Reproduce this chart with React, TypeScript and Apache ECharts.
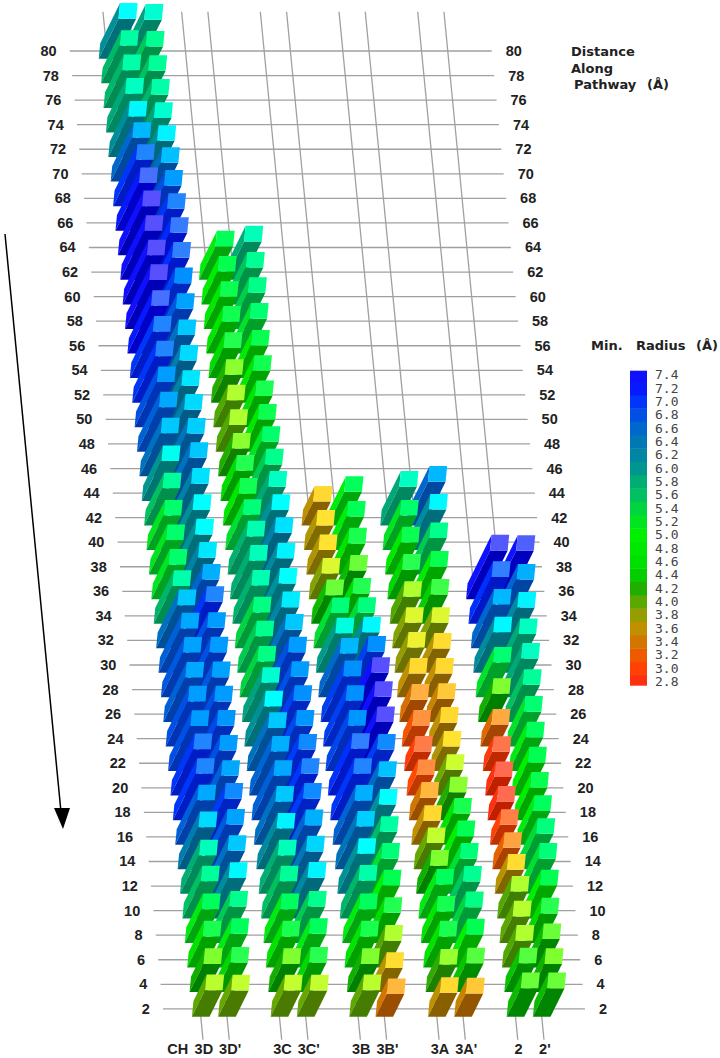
import React, { useEffect, useRef } from 'react';
import * as echarts from 'echarts';

// pore radius along the pathway, highest level first, one list per channel
const radius3D = [6.05, 5.67, 5.7, 5.85, 6.1, 6.6, 7.0, 7.2, 7.4, 7.4, 7.4, 7.4, 7.2, 7.0, 7.0, 6.8, 6.7, 6.5, 6.0, 5.6, 5.2, 5.2, 5.2, 5.7, 6.5, 6.7, 6.75, 6.7, 6.8, 6.8, 7.0, 7.0, 6.7, 6.35, 5.8, 5.6, 5.1, 4.7, 4.25, 4.0];
const radius3Dp = [5.9, 5.55, 5.6, 5.7, 5.9, 6.15, 6.55, 6.8, 7.0, 7.1, 7.05, 6.9, 6.75, 6.5, 6.35, 6.25, 6.35, 6.45, 6.5, 6.3, 6.05, 6.05, 6.25, 6.65, 7.0, 6.8, 6.8, 6.75, 6.8, 6.85, 6.8, 6.7, 6.95, 6.75, 6.5, 6.1, 5.5, 5.1, 4.45, 3.95];
const radius3C = [5.07, 4.95, 4.85, 4.8, 4.55, 4.2, 4.05, 4.05, 4.2, 4.55, 4.8, 5.3, 5.75, 5.8, 5.75, 5.4, 5.5, 5.4, 5.9, 6.05, 6.5, 6.65, 6.7, 6.5, 6.15, 5.8, 5.6, 5.1, 4.7, 4.25, 3.95];
const radius3Cp = [5.8, 5.55, 5.45, 5.25, 4.9, 4.8, 4.7, 4.85, 5.2, 5.5, 5.85, 6.05, 6.3, 6.15, 6.05, 6.2, 6.5, 6.8, 6.8, 6.9, 6.85, 6.95, 7.0, 6.95, 6.65, 6.4, 6.15, 5.5, 5.1, 4.45, 3.95];
const radius3B = [3.6, 3.7, 3.7, 3.85, 4.3, 5.3, 5.95, 6.6, 6.9, 6.9, 6.85, 7.05, 7.0, 6.65, 6.45, 6.05, 5.7, 5.1, 4.7, 4.25, 4.0];
const radius3Bp = [5.07, 5.05, 4.7, 4.3, 4.55, 5.35, 6.1, 6.9, 7.4, 7.5, 7.4, 6.95, 6.55, 6.05, 5.65, 5.3, 5.0, 4.55, 4.05, 3.65, 3.4];
const radius3A = [5.85, 5.2, 4.85, 4.45, 4.05, 3.85, 3.8, 3.6, 3.35, 3.15, 2.95, 3.1, 3.4, 3.6, 3.95, 4.25, 5.1, 4.75, 4.7, 4.15, 3.6];
const radius3Ap = [6.6, 6.1, 5.5, 4.9, 4.4, 3.85, 3.65, 3.6, 3.5, 3.6, 3.7, 3.9, 4.2, 4.7, 5.0, 5.3, 5.55, 5.4, 5.0, 4.35, 3.5];
const radius2 = [7.35, 7.05, 6.6, 6.1, 5.25, 4.25, 3.3, 2.9, 2.8, 2.8, 3.0, 3.25, 3.65, 4.05, 4.0, 4.05, 4.35, 4.3];
const radius2p = [7.3, 6.65, 6.15, 5.85, 5.85, 5.6, 5.25, 5.1, 5.0, 4.9, 5.1, 5.35, 5.3, 5.0, 4.45, 4.3, 4.25, 4.3];

// blanks are the gaps between channel pairs on the x axis
const columnNames = ['CH', '3D', "3D'", '', '3C', "3C'", '', '3B', "3B'", '', '3A', "3A'", '', '2', "2'"];
const columnValues: Record<string, number[]> = {
  '3D': radius3D, "3D'": radius3Dp, '3C': radius3C, "3C'": radius3Cp, '3B': radius3B,
  "3B'": radius3Bp, '3A': radius3A, "3A'": radius3Ap, '2': radius2, "2'": radius2p,
};
const levelTicks = [2, 4, 6, 8, 10, 12, 14, 16, 18, 20, 22, 24, 26, 28, 30, 32, 34, 36, 38, 40, 42, 44, 46, 48, 50, 52, 54, 56, 58, 60, 62, 64, 66, 68, 70, 72, 74, 76, 78, 80];
const legendTicks = ['2.8', '3.0', '3.2', '3.4', '3.6', '3.8', '4.0', '4.2', '4.4', '4.6', '4.8', '5.0', '5.2', '5.4', '5.6', '5.8', '6.0', '6.2', '6.4', '6.6', '6.8', '7.0', '7.2', '7.4'];

// radius, top face, left face, front face
const shades: [number, string, string, string][] = [
  [2.8, '#ff6a50', '#ff3010', '#c02000'],
  [3.1, '#ff8c40', '#ff4a00', '#c03800'],
  [3.35, '#ffb040', '#d87000', '#a04800'],
  [3.6, '#ffd830', '#c09000', '#886000'],
  [3.75, '#ffe830', '#a89800', '#7a7000'],
  [3.9, '#ccff30', '#70a800', '#507800'],
  [4.05, '#b0ff30', '#50a800', '#3f7f00'],
  [4.25, '#80ff30', '#10b000', '#008000'],
  [4.45, '#28ff50', '#00d800', '#009800'],
  [4.6, '#20ff50', '#00e000', '#00a000'],
  [5.0, '#00ff50', '#00f000', '#00a800'],
  [5.3, '#00ff78', '#00e030', '#00a030'],
  [5.6, '#00ff98', '#00c060', '#00904c'],
  [5.85, '#00ffc0', '#00a878', '#008860'],
  [6.05, '#00ffff', '#009098', '#007078'],
  [6.3, '#00e0ff', '#0080a8', '#006080'],
  [6.5, '#00c8ff', '#0070c0', '#005098'],
  [6.7, '#00a8ff', '#0060d8', '#0040a8'],
  [6.9, '#0090ff', '#0040f0', '#0028c0'],
  [7.05, '#3080ff', '#0030ff', '#0018c8'],
  [7.2, '#4870ff', '#0818ff', '#0000c8'],
  [7.4, '#5850ff', '#1010ff', '#0000b8'],
];

const TICK_FONT = { fontFamily: '"Liberation Sans", sans-serif', fontWeight: 'bold' as const, fontSize: 14.5, fill: '#222' };
const LINE = { stroke: '#a0a0a0', lineWidth: 1.3 };
const SHEAR = 1.195; // px the whole floor leans left per level
const RISE_X = 3.27; // px per angstrom of bar height
const RISE_Y = 6.63;
const HALF_W = 8.8;
const HALF_D = 7.8;

const mix = (a: string, b: string, t: number) => {
  const pa = parseInt(a.slice(1), 16);
  const pb = parseInt(b.slice(1), 16);
  const ch = (s: number) => Math.round(((pa >> s) & 255) * (1 - t) + ((pb >> s) & 255) * t);
  return `rgb(${ch(16)},${ch(8)},${ch(0)})`;
};

const shade = (v: number, face: 1 | 2 | 3) => {
  if (v <= shades[0][0]) return shades[0][face];
  for (let i = 1; i < shades.length; i++) {
    if (v <= shades[i][0]) {
      const t = (v - shades[i - 1][0]) / (shades[i][0] - shades[i - 1][0]);
      return mix(shades[i - 1][face], shades[i][face], t);
    }
  }
  return shades[shades.length - 1][face];
};

// floor position of a column / level, leaning with the level
const floorPoint = (api: any, slot: number, level: number) => {
  const p = api.coord([slot, level]);
  return [p[0] - (level - 2) * SHEAR, p[1]];
};

const renderLevel = (_: any, api: any) => {
  const level = api.value(1);
  const [x0, y] = floorPoint(api, 0, level);
  const [x1] = floorPoint(api, 14, level);
  return {
    type: 'group',
    children: [
      { type: 'line', shape: { x1: x0 - 10.8, y1: y, x2: x1 + 44, y2: y }, style: LINE },
      { type: 'text', style: { ...TICK_FONT, text: String(level), x: x0 - 24, y, textAlign: 'right', textVerticalAlign: 'middle' } },
      { type: 'text', style: { ...TICK_FONT, text: String(level), x: x1 + 58, y, textAlign: 'left', textVerticalAlign: 'middle' } },
    ],
  };
};

const renderColumnLine = (_: any, api: any) => {
  const slot = api.value(0);
  const name = columnNames[slot];
  const low = floorPoint(api, slot, -0.52);
  const high = floorPoint(api, slot, 83.2);
  const lab = floorPoint(api, slot, -1.25);
  const children: any[] = [{ type: 'text', style: { ...TICK_FONT, text: name, x: lab[0], y: lab[1], textAlign: 'center', textVerticalAlign: 'middle' } }];
  if (name !== 'CH') {
    children.unshift({ type: 'line', shape: { x1: low[0], y1: low[1], x2: high[0], y2: high[1] }, style: LINE });
  }
  return { type: 'group', children };
};

const renderBar = (_: any, api: any) => {
  const slot = api.value(0);
  const level = api.value(1);
  const v = api.value(2);
  const [bx, by] = floorPoint(api, slot, level);
  const cx = bx + 1.5;
  const lean = HALF_D * (SHEAR / 12.28);
  const rx = RISE_X * v;
  const ry = RISE_Y * v;
  const backL = [cx - HALF_W + lean, by - HALF_D];
  const frontL = [cx - HALF_W - lean, by + HALF_D];
  const frontR = [cx + HALF_W - lean, by + HALF_D];
  const backR = [cx + HALF_W + lean, by - HALF_D];
  const up = (p: number[]) => [p[0] + rx, p[1] - ry];
  return {
    type: 'group',
    children: [
      { type: 'polygon', shape: { points: [backL, frontL, up(frontL), up(backL)] }, style: { fill: shade(v, 2) } },
      { type: 'polygon', shape: { points: [frontL, frontR, up(frontR), up(frontL)] }, style: { fill: shade(v, 3) } },
      { type: 'polygon', shape: { points: [up(backL), up(backR), up(frontR), up(frontL)] }, style: { fill: shade(v, 1) } },
    ],
  };
};

const renderLegendBand = (_: any, api: any) => {
  const i = api.value(1);
  const [x, y] = api.coord([0, i]);
  const h = api.size([0, 1])[1];
  const trimTop = i === legendTicks.length - 1 ? 2.4 : 0;
  const trimBottom = i === 0 ? 3 : 0;
  const color = shade(Number(legendTicks[i]), 2);
  return {
    type: 'rect',
    shape: { x, y: y - h / 2 + trimTop, width: 17, height: h - trimTop - trimBottom + 0.4 },
    style: { fill: color },
  };
};

const titleText = (text: string, x: number, y: number) => ({
  type: 'text' as const,
  x,
  y,
  style: { text, fill: '#222', fontFamily: '"DejaVu Sans", sans-serif', fontWeight: 'bold' as const, fontSize: 13 },
});

export default function App() {
  const chartRef = useRef<HTMLDivElement>(null);

  useEffect(() => {
    if (!chartRef.current) return;
    const chart = echarts.init(chartRef.current, undefined, { renderer: 'svg' });

    // back rows first, right columns first, so nearer bars paint over farther ones
    const barData: number[][] = [];
    for (let i = levelTicks.length - 1; i >= 0; i--) {
      const level = levelTicks[i];
      for (let slot = columnNames.length - 1; slot >= 0; slot--) {
        const list = columnValues[columnNames[slot]];
        if (!list) continue;
        const idx = list.length - 1 - i;
        if (idx >= 0) barData.push([slot, level, list[idx]]);
      }
    }

    const option: echarts.EChartsOption = {
      animation: false,
      backgroundColor: '#fff',
      grid: [
        { left: 173.77, width: 367.2, top: 1.88, height: 1056.1 },
        { left: 630, width: 17, top: 368.3, height: 320 },
      ],
      xAxis: [
        { type: 'category', data: columnNames, boundaryGap: false, show: false, gridIndex: 0 },
        { type: 'value', min: 0, max: 1, show: false, gridIndex: 1 },
      ],
      yAxis: [
        { type: 'value', min: -2, max: 84, show: false, gridIndex: 0 },
        {
          type: 'category',
          data: legendTicks,
          gridIndex: 1,
          position: 'right',
          axisLine: { show: false },
          axisTick: { show: false },
          axisLabel: { show: true, interval: 0, margin: 8, color: '#444', fontFamily: '"DejaVu Sans Mono", monospace', fontSize: 13, lineHeight: 13 },
        },
      ],
      series: [
        { type: 'custom', z: 1, silent: true, xAxisIndex: 0, yAxisIndex: 0, renderItem: renderLevel as any, data: levelTicks.map((l) => [0, l]) },
        { type: 'custom', z: 1, silent: true, xAxisIndex: 0, yAxisIndex: 0, renderItem: renderColumnLine as any, data: columnNames.map((n, i) => (n ? [i, 2] : null)).filter(Boolean) as number[][] },
        { type: 'custom', z: 2, silent: true, xAxisIndex: 0, yAxisIndex: 0, renderItem: renderBar as any, data: barData },
        { type: 'custom', z: 2, silent: true, xAxisIndex: 1, yAxisIndex: 1, renderItem: renderLegendBand as any, data: legendTicks.map((_, i) => [0, i]) },
      ],
      graphic: [
        titleText('Distance', 571, 45),
        titleText('Along', 571, 62),
        titleText('Pathway', 574, 78),
        titleText('(Å)', 647, 78),
        titleText('Min.', 591, 339),
        titleText('Radius', 636, 339),
        titleText('(Å)', 696, 339),
        { type: 'line', shape: { x1: 5, y1: 234, x2: 61, y2: 812 }, style: { stroke: '#000', lineWidth: 1.5 } },
        { type: 'polygon', shape: { points: [[54, 808], [70, 808], [63, 829]] }, style: { fill: '#000' } },
      ],
    };

    chart.setOption(option);
    return () => chart.dispose();
  }, []);

  return <div ref={chartRef} style={{ position: 'absolute', left: 0, top: 0, width: 720, height: 1058 }} />;
}
